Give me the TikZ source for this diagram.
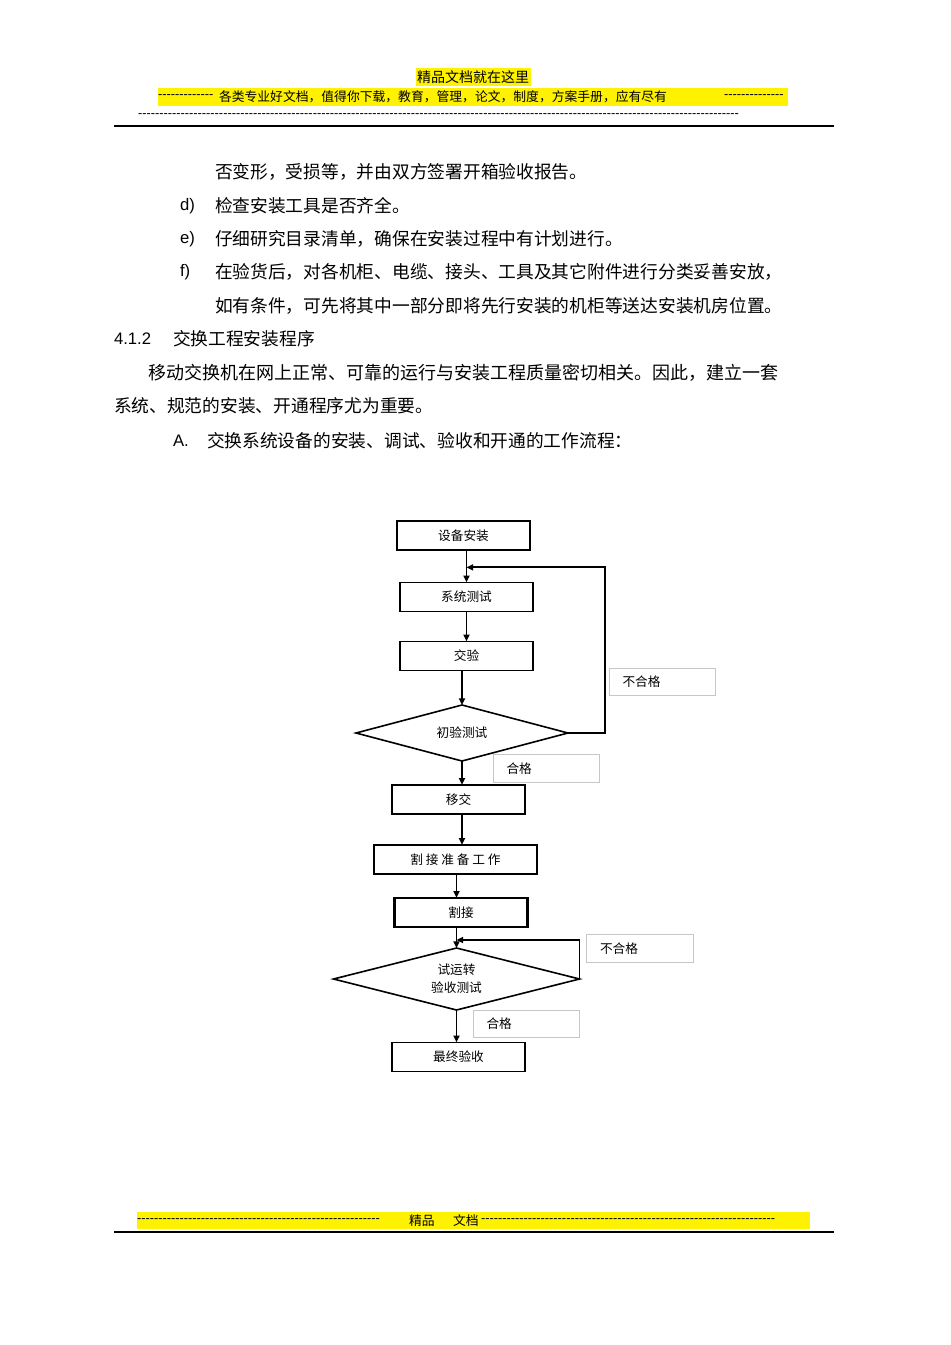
\documentclass[tikz,border=0pt]{standalone}
\usepackage{fontspec}
\setmainfont{Liberation Sans}
\newfontfamily\cjk{Noto Sans CJK SC}
\newfontfamily\dashfont{Liberation Sans}
\usetikzlibrary{calc,arrows.meta,shapes.geometric}

\newcommand\dashrun[1]{\foreach \k in {1,...,#1}{-}}

\begin{document}
\begin{tikzpicture}[
  x=0.75pt, y=-0.75pt,
  every node/.style={inner sep=0pt, outer sep=0pt},
  body/.style={anchor=west, font=\cjk\fontsize{13.3pt}{15pt}\selectfont},
  latin/.style={anchor=west, font=\fontsize{12.5pt}{14pt}\selectfont},
  banner/.style={anchor=west, font=\cjk\fontsize{9.6pt}{11pt}\selectfont},
  dashline/.style={anchor=west, font=\dashfont\fontsize{9.6pt}{11pt}\selectfont},
  stepbox/.style={draw, line width=1.2pt, minimum width=100pt, minimum height=22pt,
    font=\cjk\fontsize{9.5pt}{11pt}\selectfont},
  decision/.style={diamond, draw, line width=1.2pt, aspect=4, align=center,
    font=\cjk\fontsize{9.5pt}{13.5pt}\selectfont},
  tag/.style={draw=black!22, line width=0.6pt, inner xsep=10pt, text width=60pt,
    minimum height=20.5pt, align=left, font=\cjk\fontsize{9.5pt}{11pt}\selectfont},
  flow/.style={draw, line width=1.35pt, -{Triangle[length=5pt,width=4.5pt]}}
]
\useasboundingbox (0,0) rectangle (950,1345);

% header
\fill[yellow] (416,68) rectangle (531,86);
\fill[yellow] (158,88) rectangle (788,106);
\node[banner, font=\cjk\fontsize{10.5pt}{12pt}\selectfont] (hd1) at (417,77) {精品文档就在这里};
\node[dashline] (hdl) at (158,97) {\dashrun{13}};
\node[banner] (hd2) at (219,97) {各类专业好文档，值得你下载，教育，管理，论文，制度，方案手册，应有尽有};
\node[dashline] (hdr) at (724,97) {\dashrun{14}};
\node[dashline] (hd3) at (138,116) {\dashrun{141}};
\draw[line width=1.1pt] (114,126) -- (834,126);

% body text
\node[body] (l1) at (215,172) {否变形，受损等，并由双方签署开箱验收报告。};
\node[latin] (id) at (180,206) {d)};
\node[body] (ld) at (215,206) {检查安装工具是否齐全。};
\node[latin] (ie) at (180,239) {e)};
\node[body] (le) at (215,239) {仔细研究目录清单，确保在安装过程中有计划进行。};
\node[latin] (if) at (180,272) {f)};
\node[body] (lf) at (215,272) {在验货后，对各机柜、电缆、接头、工具及其它附件进行分类妥善安放，};
\node[body] (lf2) at (215,306) {如有条件，可先将其中一部分即将先行安装的机柜等送达安装机房位置。};
\node[latin] (sec) at (114,339) {4.1.2};
\node[body] (sect) at (173,339) {交换工程安装程序};
\node[body, font=\cjk\fontsize{13.5pt}{15pt}\selectfont] (p1) at (148,373) {移动交换机在网上正常、可靠的运行与安装工程质量密切相关。因此，建立一套};
\node[body] (p2) at (114,406) {系统、规范的安装、开通程序尤为重要。};
\node[latin] (ia) at (173,441) {A.};
\node[body] (la) at (207,441) {交换系统设备的安装、调试、验收和开通的工作流程：};

% flow chart
\node[stepbox] (sbaz) at (463.5,535.5) {设备安装};
\node[stepbox] (xtcs) at (466.5,597) {系统测试};
\node[stepbox] (jy) at (466.5,656) {交验};
\node[decision, minimum width=159pt, minimum height=42pt] (cycs) at (462,733) {初验测试};
\node[stepbox] (yj) at (458.5,799.5) {移交};
\node[stepbox, minimum width=122pt] (gjzb) at (455.5,859.5) {割 接 准 备 工 作};
\node[stepbox, line width=1.9pt] (gj) at (461,912.5) {割接};
\node[decision, minimum width=184.5pt, minimum height=46.5pt] (ysz) at (456.5,979) {试运转\\验收测试};
\node[stepbox] (zzys) at (458.5,1057) {最终验收};

\node[tag] (bhg1) at (662.5,682) {不合格};
\node[tag] (hg1) at (546.5,768.5) {合格};
\node[tag] (bhg2) at (640,948.5) {不合格};
\node[tag] (hg2) at (526.5,1024) {合格};

\coordinate (j1) at ($(xtcs.north)+(0,-15)$);
\coordinate (j2) at ($(ysz.north)+(0,-8)$);

\draw[flow] (xtcs.north |- sbaz.south) -- (xtcs.north);
\draw[flow] (xtcs.south) -- (jy.north);
\draw[flow] (cycs.north |- jy.south) -- (cycs.north);
\draw[flow] (cycs.south) -- (cycs.south |- yj.north);
\draw[flow] (yj.south -| cycs.south) -- (gjzb.north -| cycs.south);
\draw[flow] (gjzb.south -| ysz.north) -- (gj.north -| ysz.north);
\draw[flow] (ysz.north |- gj.south) -- (ysz.north);
\draw[flow] (ysz.south) -- (ysz.south |- zzys.north);
\draw[flow] (cycs.east) -- ++(37,0) |- (j1);
\draw[flow] (ysz.east) |- (j2);

% footer
\fill[yellow] (137,1212) rectangle (810,1229);
\node[dashline] (ftl) at (137,1221) {\dashrun{57}};
\node[banner] (ft1) at (409,1221) {精品};
\node[banner] (ft2) at (453,1221) {文档};
\node[dashline] (ftr) at (481,1221) {\dashrun{69}};
\draw[line width=1.1pt] (114,1232) -- (834,1232);
\end{tikzpicture}
\end{document}
